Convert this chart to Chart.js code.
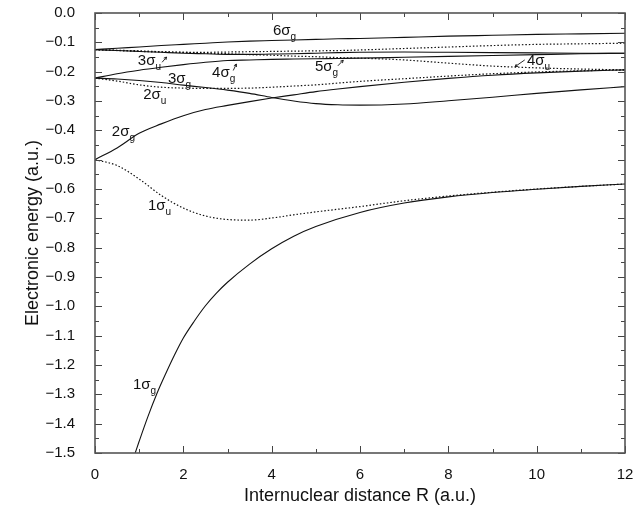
<!DOCTYPE html>
<html>
<head>
<meta charset="utf-8">
<script src="https://cdn.jsdelivr.net/npm/chart.js@4.4.0/dist/chart.umd.min.js"></script>
<style>
  html, body { margin: 0; padding: 0; background: #fff; }
  #wrap { width: 636px; height: 510px; }
</style>
</head>
<body>
<div id="wrap"><canvas id="chart-energy"></canvas></div>
<script>
// internuclear distance grid (a.u.) shared by most curves
const rGrid = [0, 0.5, 1, 1.5, 2, 2.5, 3, 3.5, 4, 4.5, 5, 5.5, 6, 7, 8, 9, 10, 11, 12];

// 1σg runs off the bottom of the plot, so it has its own grid
const r1sg = [0.91, 1.0, 1.2, 1.4, 1.6, 1.8, 2.0, 2.25, 2.5, 2.75, 3.0, 3.5, 4.0, 4.5, 5.0, 6.0, 7.0, 8.0, 9.0, 10.0, 11.0, 12.0];
const e1sg = [-1.500, -1.460, -1.375, -1.298, -1.230, -1.166, -1.108, -1.050, -0.998, -0.955, -0.918, -0.856, -0.804, -0.761, -0.728, -0.680, -0.648, -0.627, -0.612, -0.601, -0.591, -0.583];

const e1su = [-0.500, -0.520, -0.566, -0.622, -0.665, -0.692, -0.704, -0.706, -0.699, -0.688, -0.678, -0.669, -0.660, -0.640, -0.624, -0.611, -0.600, -0.591, -0.583];
const e2sg = [-0.500, -0.460, -0.410, -0.378, -0.350, -0.329, -0.315, -0.302, -0.290, -0.279, -0.268, -0.259, -0.251, -0.236, -0.223, -0.212, -0.204, -0.198, -0.194];
const e3sg = [-0.222, -0.225, -0.230, -0.237, -0.246, -0.254, -0.263, -0.274, -0.288, -0.300, -0.309, -0.313, -0.314, -0.310, -0.299, -0.287, -0.274, -0.262, -0.251];
const e2su = [-0.222, -0.232, -0.245, -0.253, -0.256, -0.257, -0.257, -0.256, -0.253, -0.249, -0.245, -0.239, -0.233, -0.224, -0.215, -0.207, -0.201, -0.197, -0.194];
const e4sg = [-0.222, -0.207, -0.195, -0.185, -0.176, -0.168, -0.162, -0.160, -0.158, -0.157, -0.156, -0.155, -0.154, -0.151, -0.148, -0.145, -0.142, -0.139, -0.137];
const e5sg = [-0.125, -0.128, -0.131, -0.134, -0.137, -0.139, -0.141, -0.141, -0.140, -0.139, -0.137, -0.135, -0.134, -0.133, -0.134, -0.135, -0.136, -0.137, -0.137];
const e6sg = [-0.125, -0.120, -0.116, -0.111, -0.107, -0.103, -0.099, -0.096, -0.094, -0.092, -0.090, -0.088, -0.087, -0.083, -0.079, -0.076, -0.073, -0.071, -0.069];
const e3su = [-0.125, -0.128, -0.131, -0.133, -0.134, -0.134, -0.133, -0.132, -0.131, -0.130, -0.129, -0.128, -0.126, -0.121, -0.116, -0.111, -0.107, -0.105, -0.103];
const e4su = [-0.125, -0.127, -0.129, -0.132, -0.134, -0.137, -0.139, -0.142, -0.144, -0.147, -0.149, -0.152, -0.154, -0.160, -0.171, -0.181, -0.187, -0.191, -0.194];

// curve labels: main text, subscript
const labelMain = ['6σ', '3σ', '4σ', '3σ', '2σ', '5σ', '2σ', '4σ', '1σ', '1σ'];
const labelSub = ['g', 'u', 'g', 'g', 'u', 'g', 'g', 'u', 'u', 'g'];

const FONT = "'Liberation Sans', Arial, Helvetica, sans-serif";

// label anchors (left edge, baseline) in data units
const labelAt = [
  [4.03, -0.075], [0.97, -0.177], [2.65, -0.218], [1.65, -0.239], [1.09, -0.293],
  [4.98, -0.198], [0.38, -0.419], [9.78, -0.177], [1.20, -0.672], [0.86, -1.282]
];
// small pointer arrows [from, to] in data units
const arrowAt = [
  [[1.52, -0.168], [1.62, -0.150]],
  [[3.13, -0.196], [3.20, -0.174]],
  [[5.50, -0.180], [5.62, -0.161]],
  [[9.73, -0.160], [9.51, -0.183]]
];

function pts(rs, es) {
  return rs.map((r, i) => ({ x: r, y: es[i] }));
}

function curve(label, rs, es, dotted) {
  return {
    label,
    data: pts(rs, es),
    borderColor: '#111',
    borderWidth: dotted ? 1.2 : 1.1,
    borderDash: dotted ? [1.5, 2] : [],
    pointRadius: 0,
    cubicInterpolationMode: 'monotone',
    fill: false
  };
}

const frameAndTicks = {
  id: 'frameAndTicks',
  afterDatasetsDraw(chart) {
    const { ctx, chartArea: a, scales: { x, y } } = chart;
    ctx.save();
    ctx.strokeStyle = '#444';
    ctx.lineWidth = 1;
    ctx.beginPath();
    for (let v = 0; v <= 12; v++) {
      const px = Math.round(x.getPixelForValue(v)) + 0.5;
      const len = v % 2 === 0 ? 7 : 4;
      ctx.moveTo(px, a.bottom); ctx.lineTo(px, a.bottom - len);
      ctx.moveTo(px, a.top); ctx.lineTo(px, a.top + len);
    }
    for (let k = 0; k <= 30; k++) {
      const py = Math.round(y.getPixelForValue(-k * 0.05)) + 0.5;
      const len = k % 2 === 0 ? 7 : 4;
      ctx.moveTo(a.left, py); ctx.lineTo(a.left + len, py);
      ctx.moveTo(a.right, py); ctx.lineTo(a.right - len, py);
    }
    ctx.stroke();

    ctx.lineWidth = 1.6;
    ctx.strokeStyle = '#555';
    ctx.strokeRect(a.left, a.top, a.right - a.left, a.bottom - a.top);

    // curve labels
    ctx.fillStyle = '#111';
    ctx.textBaseline = 'alphabetic';
    labelMain.forEach((txt, i) => {
      const px = x.getPixelForValue(labelAt[i][0]);
      const py = y.getPixelForValue(labelAt[i][1]);
      ctx.font = '15px ' + FONT;
      ctx.fillText(txt, px, py);
      const w = ctx.measureText(txt).width;
      ctx.font = '10px ' + FONT;
      ctx.fillText(labelSub[i], px + w, py + 5);
    });

    // pointer arrows
    ctx.strokeStyle = '#111';
    ctx.lineWidth = 0.9;
    arrowAt.forEach(([p, q]) => {
      const x0 = x.getPixelForValue(p[0]), y0 = y.getPixelForValue(p[1]);
      const x1 = x.getPixelForValue(q[0]), y1 = y.getPixelForValue(q[1]);
      const ang = Math.atan2(y1 - y0, x1 - x0);
      ctx.beginPath();
      ctx.moveTo(x0, y0); ctx.lineTo(x1, y1);
      ctx.moveTo(x1, y1); ctx.lineTo(x1 - 3 * Math.cos(ang - 0.5), y1 - 3 * Math.sin(ang - 0.5));
      ctx.moveTo(x1, y1); ctx.lineTo(x1 - 3 * Math.cos(ang + 0.5), y1 - 3 * Math.sin(ang + 0.5));
      ctx.stroke();
    });
    ctx.restore();
  }
};

window.addEventListener('DOMContentLoaded', () => {
  const ctx = document.getElementById('chart-energy');

  new Chart(ctx, {
    type: 'line',
    data: {
      datasets: [
        curve('1σg', r1sg, e1sg, false),
        curve('1σu', rGrid, e1su, true),
        curve('2σg', rGrid, e2sg, false),
        curve('3σg', rGrid, e3sg, false),
        curve('2σu', rGrid, e2su, true),
        curve('4σg', rGrid, e4sg, false),
        curve('5σg', rGrid, e5sg, false),
        curve('6σg', rGrid, e6sg, false),
        curve('3σu', rGrid, e3su, true),
        curve('4σu', rGrid, e4su, true)
      ]
    },
    options: {
      responsive: true,
      maintainAspectRatio: false,
      animation: false,
      layout: { padding: { top: 13, right: 11, left: 0, bottom: 0 } },
      plugins: {
        legend: { display: false },
        tooltip: { enabled: false }
      },
      scales: {
        x: {
          type: 'linear',
          min: 0,
          max: 12,
          grid: { display: false },
          border: { display: false },
          ticks: {
            stepSize: 2,
            padding: 5,
            color: '#111',
            font: { family: FONT, size: 15 },
            maxRotation: 0
          },
          title: {
            display: true,
            text: 'Internuclear distance R (a.u.)',
            color: '#111',
            font: { family: FONT, size: 18 },
            padding: { top: 0, bottom: 3 }
          },
          afterFit: (scale) => {
            scale.height = 57;
            scale.paddingLeft = 0;
            scale.paddingRight = 0;
          }
        },
        y: {
          type: 'linear',
          min: -1.5,
          max: 0,
          grid: { display: false },
          border: { display: false },
          ticks: {
            stepSize: 0.1,
            autoSkip: false,
            padding: 12,
            color: '#111',
            font: { family: FONT, size: 15 },
            callback: (v) => (Math.abs(v) < 1e-9 ? '0.0' : '\u2212' + Math.abs(v).toFixed(1))
          },
          title: {
            display: true,
            text: 'Electronic energy (a.u.)',
            color: '#111',
            font: { family: FONT, size: 18 },
            padding: { top: 22, bottom: 0 }
          },
          afterFit: (scale) => {
            scale.width = 95;
            scale.paddingTop = 0;
            scale.paddingBottom = 0;
          }
        }
      }
    },
    plugins: [frameAndTicks]
  });
});
</script>
</body>
</html>
